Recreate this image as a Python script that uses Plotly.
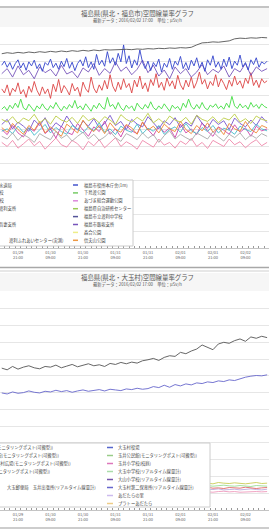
import plotly.graph_objects as go
import pandas as pd

W, H = 269, 529
FONT = "Noto Sans CJK JP"

# ---------------- data ----------------
times = pd.date_range("2016-01-29 15:00", periods=50, freq="2h")     # 2-hourly readings
times_h = pd.date_range("2016-01-29 15:00", periods=99, freq="h")    # hourly readings
tick_times = pd.date_range("2016-01-29 21:00", periods=8, freq="12h")
tick_labels = ["01/29<br>21:00", "01/30<br>09:00", "01/30<br>21:00", "01/31<br>09:00",
               "01/31<br>21:00", "02/01<br>09:00", "02/01<br>21:00", "02/02<br>09:00"]

title1 = "福島県(県北・福島市)空間線量率グラフ"
title2 = "福島県(県北・大玉村)空間線量率グラフ"
subtitle = "最新データ：2016/02/02 17:00　単位：μSv/h"

# chart 1 series
c1_gray = [0.574,0.577,0.575,0.578,0.576,0.579,0.577,0.580,0.578,0.581,0.579,0.582,0.580,0.583,0.581,0.584,0.582,0.585,0.583,0.586,0.585,0.586,0.585,0.587,0.586,0.588,0.587,0.589,0.588,0.590,0.589,0.591,0.590,0.592,0.591,0.593,0.600,0.606,0.607,0.609,0.608,0.610,0.612,0.618,0.620,0.619,0.621,0.620,0.622,0.621]
c1_blue = [0.540,0.552,0.534,0.548,0.528,0.545,0.556,0.532,0.547,0.525,0.550,0.538,0.555,0.530,0.544,0.522,0.548,0.540,0.558,0.533,
           0.546,0.528,0.552,0.536,0.560,0.531,0.549,0.524,0.545,0.556,0.538,0.565,0.533,0.550,0.528,0.572,0.541,0.555,0.537,0.580,
           0.546,0.562,0.540,0.575,0.550,0.600,0.545,0.568,0.532,0.556,0.540,0.585,0.548,0.530,0.552,0.524,0.548,0.536,0.558,0.520,
           0.546,0.534,0.560,0.528,0.552,0.540,0.566,0.530,0.548,0.526,0.555,0.538,0.562,0.532,0.549,0.522,0.556,0.540,0.568,0.534,
           0.550,0.528,0.558,0.536,0.564,0.530,0.552,0.540,0.570,0.535,0.548,0.526,0.556,0.542,0.562,0.534,0.550,0.544,0.552]
c1_purple = [0.515,0.530,0.505,0.538,0.512,0.525,0.500,0.535,0.518,0.528,0.508,0.540,0.514,0.522,0.503,0.532,0.520,0.545,0.510,0.530,0.516,0.550,0.522,0.535,0.512,0.528,0.555,0.518,0.540,0.508,0.526,0.500,0.535,0.515,0.530,0.505,0.520,0.542,0.512,0.528,0.518,0.538,0.505,0.530,0.520,0.545,0.510,0.535,0.522,0.530]
c1_red = [0.470,0.458,0.482,0.450,0.472,0.462,0.488,0.455,0.468,0.445,0.478,0.460,0.492,0.466,0.450,0.476,0.456,0.470,0.442,0.484,
          0.462,0.498,0.458,0.480,0.468,0.452,0.486,0.464,0.475,0.448,0.490,0.470,0.460,0.505,0.472,0.458,0.482,0.466,0.495,0.470,
          0.512,0.478,0.462,0.490,0.468,0.500,0.474,0.486,0.458,0.496,0.476,0.508,0.470,0.488,0.462,0.498,0.480,0.515,0.474,0.490,
          0.466,0.502,0.478,0.494,0.470,0.510,0.482,0.468,0.496,0.476,0.505,0.472,0.490,0.520,0.484,0.498,0.470,0.492,0.480,0.512,
          0.476,0.500,0.486,0.468,0.496,0.478,0.508,0.482,0.494,0.472,0.502,0.486,0.518,0.480,0.496,0.474,0.500,0.488,0.494]
c1_green = [0.410,0.418,0.406,0.422,0.412,0.428,0.415,0.440,0.414,0.408,0.425,0.416,0.404,0.420,0.411,0.426,0.413,0.407,0.421,0.412,
            0.430,0.416,0.405,0.419,0.410,0.424,0.414,0.436,0.412,0.420,0.408,0.426,0.415,0.404,0.422,0.412,0.428,0.416,0.410,0.445,
            0.418,0.424,0.410,0.430,0.414,0.406,0.422,0.412,0.420,0.405,0.428,0.416,0.410,0.424,0.413,0.432,0.415,0.408,0.420,0.411,
            0.426,0.414,0.404,0.422,0.412,0.418,0.406,0.428,0.415,0.440,0.418,0.410,0.424,0.412,0.430,0.414,0.408,0.422,0.416,0.426,
            0.412,0.420,0.410,0.428,0.415,0.448,0.420,0.412,0.426,0.414,0.422,0.410,0.430,0.416,0.424,0.412,0.426,0.418,0.414]
c1_magenta = [0.350,0.335,0.362,0.340,0.328,0.355,0.345,0.370,0.338,0.352,0.325,0.360,0.342,0.335,0.368,0.348,0.330,0.358,0.344,0.375,0.336,0.352,0.328,0.362,0.346,0.338,0.372,0.350,0.332,0.360,0.342,0.355,0.326,0.366,0.340,0.352,0.335,0.370,0.345,0.330,0.358,0.348,0.336,0.364,0.342,0.355,0.330,0.360,0.346,0.352]
c1_violet = [0.365,0.380,0.352,0.372,0.360,0.345,0.378,0.362,0.385,0.350,0.370,0.358,0.390,0.366,0.348,0.375,0.360,0.382,0.355,0.368,0.392,0.362,0.374,0.350,0.380,0.366,0.358,0.388,0.370,0.352,0.376,0.364,0.385,0.356,0.372,0.360,0.392,0.368,0.354,0.380,0.365,0.376,0.350,0.384,0.368,0.358,0.378,0.362,0.388,0.370]
c1_cyan = [0.345,0.352,0.338,0.360,0.342,0.355,0.333,0.348,0.365,0.340,0.356,0.344,0.336,0.362,0.350,0.340,0.358,0.346,0.370,0.342,0.352,0.335,0.360,0.348,0.342,0.366,0.338,0.354,0.345,0.362,0.336,0.350,0.358,0.342,0.368,0.346,0.338,0.356,0.344,0.362,0.340,0.354,0.348,0.336,0.360,0.350,0.344,0.366,0.352,0.346]
c1_orange = [0.356,0.342,0.368,0.350,0.336,0.362,0.348,0.374,0.340,0.358,0.345,0.330,0.366,0.352,0.340,0.378,0.355,0.344,0.362,0.338,0.370,0.350,0.342,0.365,0.355,0.336,0.372,0.348,0.360,0.340,0.366,0.352,0.344,0.375,0.350,0.338,0.362,0.346,0.370,0.342,0.356,0.335,0.368,0.352,0.345,0.374,0.350,0.340,0.362,0.355]
c1_pink = [0.312,0.300,0.318,0.295,0.308,0.322,0.302,0.315,0.292,0.310,0.325,0.305,0.298,0.318,0.308,0.290,0.315,0.302,0.320,0.296,0.310,0.326,0.300,0.314,0.305,0.292,0.318,0.308,0.298,0.322,0.304,0.312,0.295,0.316,0.306,0.324,0.300,0.312,0.294,0.318,0.308,0.300,0.322,0.305,0.314,0.296,0.310,0.320,0.302,0.312]
c1_olive = [0.380,0.372,0.388,0.368,0.384,0.376,0.395,0.370,0.382,0.366,0.390,0.378,0.372,0.386,0.368,0.392,0.376,0.384,0.370,0.388,0.378,0.365,0.394,0.380,0.372,0.386,0.375,0.398,0.370,0.382,0.368,0.390,0.378,0.372,0.386,0.366,0.392,0.380,0.374,0.388,0.370,0.384,0.378,0.396,0.372,0.382,0.368,0.390,0.380,0.376]
c1_lgray = [0.330,0.322,0.340,0.318,0.335,0.326,0.312,0.338,0.328,0.320,0.345,0.324,0.334,0.316,0.330,0.342,0.322,0.336,0.318,0.328,0.344,0.326,0.315,0.338,0.330,0.320,0.340,0.324,0.335,0.312,0.332,0.346,0.322,0.336,0.326,0.318,0.340,0.330,0.322,0.344,0.328,0.316,0.336,0.326,0.340,0.320,0.334,0.324,0.338,0.330]

# chart 2 series
c2_gray = [0.423,0.418,0.428,0.420,0.426,0.430,0.424,0.421,0.428,0.426,0.432,0.424,0.429,0.434,0.427,0.431,0.436,0.430,0.433,0.428,0.437,0.434,0.440,0.436,0.441,0.438,0.445,0.448,0.452,0.446,0.455,0.460,0.458,0.470,0.466,0.474,0.480,0.492,0.486,0.478,0.495,0.500,0.497,0.505,0.510,0.503,0.516,0.512,0.518,0.514]
c2_blue = [0.349,0.346,0.352,0.348,0.350,0.355,0.351,0.349,0.354,0.352,0.357,0.353,0.356,0.351,0.355,0.358,0.354,0.357,0.359,0.355,0.360,0.358,0.356,0.361,0.359,0.363,0.360,0.362,0.368,0.365,0.372,0.366,0.374,0.370,0.376,0.373,0.379,0.377,0.382,0.380,0.385,0.383,0.388,0.386,0.392,0.396,0.399,0.401,0.400,0.403]
c2_yg = [0.080,0.078,0.081,0.079,0.080,0.082,0.078,0.080,0.081,0.079,0.080,0.078,0.082,0.080,0.079,0.081,0.080,0.078,0.080,0.082,0.079,0.080,0.081,0.078,0.080,0.079,0.082,0.080,0.078,0.081,0.080,0.079,0.080,0.082,0.078,0.080,0.081,0.079,0.080,0.078,0.082,0.080,0.079,0.081,0.080,0.078,0.080,0.082,0.079,0.080]
c2_lgreen = [0.072,0.074,0.071,0.073,0.072,0.070,0.073,0.072,0.074,0.071,0.072,0.073,0.070,0.072,0.074,0.072,0.071,0.073,0.072,0.070,0.073,0.074,0.071,0.072,0.073,0.071,0.072,0.074,0.072,0.070,0.073,0.072,0.071,0.073,0.074,0.072,0.070,0.072,0.073,0.071,0.072,0.074,0.072,0.071,0.073,0.072,0.070,0.073,0.072,0.071]
c2_red = [0.066,0.064,0.067,0.065,0.066,0.068,0.065,0.066,0.064,0.067,0.066,0.065,0.068,0.066,0.064,0.066,0.067,0.065,0.066,0.064,0.067,0.066,0.065,0.068,0.066,0.064,0.066,0.067,0.065,0.066,0.068,0.065,0.066,0.064,0.067,0.066,0.065,0.066,0.068,0.065,0.066,0.064,0.067,0.066,0.065,0.068,0.066,0.064,0.066,0.067]
c2_lav = [0.061,0.062,0.060,0.061,0.063,0.061,0.060,0.062,0.061,0.060,0.062,0.061,0.063,0.060,0.061,0.062,0.060,0.061,0.063,0.061,0.060,0.062,0.061,0.060,0.062,0.061,0.063,0.060,0.061,0.062,0.060,0.061,0.063,0.061,0.060,0.062,0.061,0.060,0.062,0.061,0.063,0.060,0.061,0.062,0.060,0.061,0.063,0.061,0.060,0.062]
c2_pink = [0.055,0.054,0.056,0.053,0.055,0.054,0.056,0.055,0.053,0.054,0.056,0.055,0.054,0.053,0.055,0.056,0.054,0.055,0.053,0.054,0.056,0.055,0.054,0.055,0.053,0.056,0.054,0.055,0.054,0.053,0.055,0.056,0.054,0.055,0.053,0.054,0.056,0.055,0.054,0.053,0.055,0.056,0.054,0.055,0.053,0.054,0.056,0.055,0.054,0.055]

chart1_series = [
    ("magenta", times, c1_magenta, "#cc44aa"), ("violet", times, c1_violet, "#7755cc"),
    ("cyan", times, c1_cyan, "#44bbcc"), ("orange", times, c1_orange, "#ee8833"),
    ("pink", times, c1_pink, "#ee88aa"), ("olive", times, c1_olive, "#bbcc44"),
    ("lgray", times, c1_lgray, "#aaaaaa"), ("green", times_h, c1_green, "#44dd44"),
    ("red", times_h, c1_red, "#dd4444"), ("purple", times, c1_purple, "#7755bb"),
    ("blue", times_h, c1_blue, "#3344cc"), ("gray", times, c1_gray, "#555555"),
]
chart2_series = [
    ("pink", times, c2_pink, "#ee99bb"), ("lav", times, c2_lav, "#bbaadd"),
    ("red", times, c2_red, "#e06666"), ("lgreen", times, c2_lgreen, "#99dd99"),
    ("yg", times, c2_yg, "#c8cc55"), ("blue", times, c2_blue, "#6666cc"), ("gray", times, c2_gray, "#555555"),
]

leg1_right = ["福島市役所本庁舎(1m)", "下鳥渡公園", "あづま総合運動公園", "福島県自治研修センター",
              "福島市立渡利中学校", "福島市飯坂支所", "森合公園", "信夫山公園"]
leg1_right_colors = ["#4455cc", "#77cc66", "#dd88dd", "#99cc55", "#555599", "#7755bb", "#eeee88", "#ee9944"]
leg1_left = ["福島市水道局", "蓬莱中学校", "南向台小学校", "福島市渡利支所", "", "福島市吾妻支所", "", ""]
leg1_left_end = [13, 5, 5, 18, 0, 18, 0, 0]
leg1_row8_left = "渡利ふれあいセンター(実測)"

leg2_right = ["大玉村役場", "玉井公民館(モニタリングポスト(可搬型))", "玉井小学校(校庭)",
              "大玉中学校(リアルタイム線量計)", "大山小学校(リアルタイム線量計)",
              "大玉村第二保育所(リアルタイム線量計)", "あだたらの里", "プラトーあだたら"]
leg2_right_colors = ["#5566cc", "#99cc88", "#dd77bb", "#aaddaa", "#7755aa", "#6666cc", "#ccbbee", "#eecc88"]
leg2_left = ["大玉村保健センター(モニタリングポスト(可搬型))", "大山公民館(モニタリングポスト(可搬型))",
             "玉井地区農村広場(モニタリングポスト(可搬型))", "大玉村総合運動公園(モニタリングポスト(可搬型))",
             "", "大玉郵便局　玉井出張所(リアルタイム線量計)", "", ""]
leg2_left_end = [55, 60, 72, 52, 0, 97, 0, 0]


# ---------------- helpers ----------------
def px(x):
    return x / W


def py(y):
    return 1 - y / H


fig = go.Figure()
for name, tt, vals, col in chart1_series:
    fig.add_trace(go.Scatter(x=tt, y=vals, mode="lines", name=name,
                             line=dict(color=col, width=0.9), xaxis="x", yaxis="y"))
for name, tt, vals, col in chart2_series:
    fig.add_trace(go.Scatter(x=tt, y=vals, mode="lines", name=name,
                             line=dict(color=col, width=0.9), xaxis="x2", yaxis="y2"))

x_range = ["2016-01-29 14:21", "2016-02-02 17:42"]
xcommon = dict(type="date", range=x_range, tickvals=list(tick_times), ticktext=tick_labels,
               tickfont=dict(size=4, color="#666666", family=FONT), showgrid=False,
               showline=True, linecolor="#c4c4c4", linewidth=1, ticks="", zeroline=False,
               minor=dict(ticks="inside", ticklen=2, tickcolor="#999999", dtick=2 * 3600 * 1000))
ycommon = dict(range=[0, 0.65], dtick=0.05, showticklabels=False, showgrid=True,
               gridcolor="#e6e6e6", gridwidth=1, zeroline=False, ticks="")

fig.update_layout(
    width=W, height=H, autosize=False, showlegend=False,
    margin=dict(l=0, r=0, t=0, b=0, pad=0),
    paper_bgcolor="white", plot_bgcolor="white",
    font=dict(family=FONT),
    xaxis=dict(domain=[0, 1], anchor="y", **xcommon),
    yaxis=dict(domain=[py(248), py(28)], anchor="x", **ycommon),
    xaxis2=dict(domain=[0, 1], anchor="y2", **xcommon),
    yaxis2=dict(domain=[py(510), py(292)], anchor="x2", **ycommon),
)

shapes = []
annos = []
# frame / bands
for (y0, y1) in [(8, 27), (273, 291)]:
    shapes.append(dict(type="rect", xref="paper", yref="paper", x0=0, x1=1, y0=py(y1), y1=py(y0),
                       fillcolor="#f6f6f6", line=dict(width=0), layer="below"))
for (y, c, w) in [(7, "#b0b0b0", 1.5), (267.5, "#a8a8a8", 1.5), (271, "#cfcfcf", 1), (528, "#bdbdbd", 1.5)]:
    shapes.append(dict(type="line", xref="paper", yref="paper", x0=0, x1=1, y0=py(y), y1=py(y),
                       line=dict(color=c, width=w)))

# titles
for (t, ty, sy) in [(title1, 13, 20), (title2, 277, 284)]:
    annos.append(dict(text=t, x=px(137), y=py(ty), xref="paper", yref="paper", showarrow=False,
                      xanchor="center", yanchor="middle", borderpad=0,
                      font=dict(size=6.4, color="#555555", family=FONT)))
    annos.append(dict(text=subtitle, x=px(137), y=py(sy), xref="paper", yref="paper", showarrow=False,
                      xanchor="center", yanchor="middle", borderpad=0,
                      font=dict(size=4.3, color="#555555", family=FONT)))

LF = dict(size=4.3, color="#444444", family=FONT)


def legend_box(x1, y0, y1, row0, step, sample_x0, sample_x1, text_x, right_names, right_colors,
               left_names, left_ends):
    shapes.append(dict(type="rect", xref="paper", yref="paper", x0=px(-3), x1=px(x1), y0=py(y1), y1=py(y0),
                       fillcolor="white", line=dict(color="#cccccc", width=1), layer="above"))
    for i, (nm, col) in enumerate(zip(right_names, right_colors)):
        yy = row0 + step * i
        shapes.append(dict(type="line", xref="paper", yref="paper", x0=px(sample_x0), x1=px(sample_x1),
                           y0=py(yy), y1=py(yy), line=dict(color=col, width=1.5), layer="above"))
        annos.append(dict(text=nm, x=px(text_x), y=py(yy), xref="paper", yref="paper", showarrow=False,
                          xanchor="left", yanchor="middle", font=LF, borderpad=0))
    for i, (nm, end) in enumerate(zip(left_names, left_ends)):
        if not nm:
            continue
        yy = row0 + step * i
        annos.append(dict(text=nm, x=px(end), y=py(yy), xref="paper", yref="paper", showarrow=False,
                          xanchor="right", yanchor="middle", font=LF, borderpad=0))


legend_box(133, 180, 246, 185, 7.9, 73, 78, 83, leg1_right, leg1_right_colors, leg1_left, leg1_left_end)
annos.append(dict(text=leg1_row8_left, x=px(8), y=py(185 + 7.9 * 7), xref="paper", yref="paper",
                  showarrow=False, xanchor="left", yanchor="middle", font=LF, borderpad=0))
legend_box(210, 443, 507, 447.5, 8.0, 107, 113, 117, leg2_right, leg2_right_colors, leg2_left, leg2_left_end)

fig.update_layout(shapes=shapes, annotations=annos)
fig.write_html("out.html", config={"displayModeBar": False},
               post_script="document.body.style.margin='0';document.body.style.overflow='hidden';")
